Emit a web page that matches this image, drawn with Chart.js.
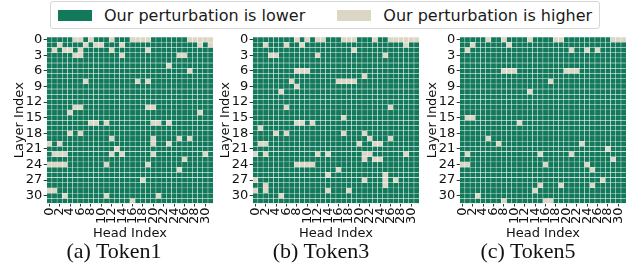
<!DOCTYPE html>
<html>
<head>
<meta charset="utf-8">
<script src="https://cdn.jsdelivr.net/npm/chart.js@4.4.0/dist/chart.umd.min.js"></script>
<style>
  html, body { margin: 0; padding: 0; background: #fff; }
  #wrap { position: relative; width: 629px; height: 271px; overflow: hidden; font-family: 'DejaVu Sans', sans-serif; }
  #wrap canvas { position: absolute; top: 30px; }
  .legend { position: absolute; top: 1px; left: 50px; height: 28px; box-sizing: border-box;
            border: 1px solid #d6d6d6; border-radius: 3px; display: flex; align-items: center;
            padding: 0 7px; font-size: 16px; color: #1a1a1a; white-space: nowrap; }
  .item { display: flex; align-items: center; }
  .item + .item { margin-left: 32px; }
  .sw { width: 34px; height: 11px; margin-right: 12px; }
  .cap { position: absolute; top: 238px; width: 200px; text-align: center;
         font-family: 'Liberation Serif', 'Times New Roman', serif; font-size: 22px; color: #111; }
</style>
</head>
<body>
<div id="wrap">
  <div class="legend">
    <div class="item"><div class="sw" id="sw-low"></div><span>Our perturbation is lower</span></div>
    <div class="item"><div class="sw" id="sw-high"></div><span>Our perturbation is higher</span></div>
  </div>
  <canvas id="c1" width="216" height="215" style="left:0px"></canvas>
  <canvas id="c2" width="216" height="215" style="left:205.8px"></canvas>
  <canvas id="c3" width="216" height="215" style="left:412.6px"></canvas>
  <div class="cap" style="left:14px">(a) Token1</div>
  <div class="cap" style="left:221px">(b) Token3</div>
  <div class="cap" style="left:428px">(c) Token5</div>
</div>
<script>
const GREEN = '#13795b';
const BEIGE = '#dcd6c5';

const heads = [0, 1, 2, 3, 4, 5, 6, 7, 8, 9, 10, 11, 12, 13, 14, 15,
               16, 17, 18, 19, 20, 21, 22, 23, 24, 25, 26, 27, 28, 29, 30, 31];
const layers = [0, 1, 2, 3, 4, 5, 6, 7, 8, 9, 10, 11, 12, 13, 14, 15,
                16, 17, 18, 19, 20, 21, 22, 23, 24, 25, 26, 27, 28, 29, 30, 31];
const layerTicks = [0, 3, 6, 9, 12, 15, 18, 21, 24, 27, 30];

// heads where our perturbation is higher, one list per layer
const token1Higher = [
  [5, 6, 8, 12, 16, 17, 18, 19, 27, 28, 29, 30, 31],
  [2, 7, 9, 10, 14, 29, 31],
  [1, 3, 4, 6, 12, 19],
  [5, 6, 14, 25, 26],
  [],
  [23],
  [27],
  [],
  [7, 17, 19],
  [], [], [], [],
  [5, 6, 19, 20],
  [4, 29],
  [],
  [8, 9, 11, 20, 21, 23],
  [],
  [4, 6],
  [12, 20, 25, 27],
  [0, 2, 20, 23],
  [13],
  [1, 2, 3, 12, 14, 20, 30],
  [26],
  [0, 1, 2, 3, 11, 19],
  [25],
  [],
  [18],
  [],
  [0, 1],
  [3, 11, 21],
  [16]
];

const token3Higher = [
  [8, 10, 12, 13, 17, 18, 19, 23, 26, 27, 28, 29, 30, 31],
  [2, 6, 9, 29],
  [19],
  [3, 4, 12, 25],
  [], [],
  [8, 9, 10],
  [21],
  [7, 16, 17, 18, 19],
  [8],
  [5],
  [], [],
  [6, 26],
  [],
  [17],
  [8, 9, 11],
  [1],
  [4, 6, 17, 21],
  [22, 26],
  [1, 2, 20, 23, 24],
  [],
  [0, 2, 12, 14, 21, 22, 29],
  [21, 23, 24],
  [8, 9, 10, 11],
  [16],
  [14, 25],
  [0, 21, 25, 27],
  [2, 25],
  [0, 2, 14, 18],
  [5],
  []
];

const token5Higher = [
  [5, 8, 13, 18, 19, 29, 30, 31],
  [2, 9],
  [1, 21, 24, 26],
  [], [], [],
  [8, 9, 10, 20, 21, 22],
  [],
  [17],
  [],
  [13],
  [], [], [], [],
  [1, 2],
  [11],
  [], [],
  [5],
  [7, 23],
  [28],
  [1, 15, 21],
  [29],
  [0, 1, 16, 24],
  [25],
  [],
  [27],
  [15, 19, 25],
  [14],
  [3],
  [8, 16, 17]
];

document.getElementById('sw-low').style.background = GREEN;
document.getElementById('sw-high').style.background = BEIGE;

Chart.defaults.font.family = "'DejaVu Sans', sans-serif";
Chart.defaults.color = '#111';

const makePanel = (id, higher) => {
  // one floating-bar dataset per layer, all overlaid in the same head slots
  const datasets = layers.map(layer => ({
    data: heads.map(() => [layer - 0.5, layer + 0.5]),
    backgroundColor: heads.map(h => (higher[layer].includes(h) ? BEIGE : GREEN)),
    borderColor: 'rgba(255,255,255,0.7)',
    borderWidth: 0.5,
    borderSkipped: false,
    grouped: false,
    categoryPercentage: 1,
    barPercentage: 1
  }));

  new Chart(document.getElementById(id), {
    type: 'bar',
    data: { labels: heads.map(String), datasets },
    options: {
      responsive: false,
      animation: false,
      devicePixelRatio: 1,
      layout: { padding: { top: 7, right: 2.8, left: 0, bottom: 0 } },
      plugins: { legend: { display: false }, tooltip: { enabled: false } },
      scales: {
        x: {
          type: 'category',
          offset: true,
          border: { display: false },
          grid: { display: true, drawOnChartArea: false, offset: false, tickLength: 3, tickColor: '#333' },
          ticks: { autoSkip: false, minRotation: 90, maxRotation: 90, padding: 1, font: { size: 13 } },
          afterBuildTicks: s => { s.ticks = s.ticks.filter(t => t.value % 2 === 0); },
          afterFit: s => { s.height = 41.5; s.paddingLeft = 0; s.paddingRight = 0; },
          title: { display: true, text: 'Head Index', padding: { top: 0, bottom: 3.5 }, font: { size: 13 } }
        },
        y: {
          type: 'linear',
          reverse: true,
          min: -0.5,
          max: 31.5,
          border: { display: false },
          grid: { display: true, drawOnChartArea: false, tickLength: 3, tickColor: '#333' },
          ticks: { autoSkip: false, padding: 1.5, font: { size: 13 } },
          afterBuildTicks: s => { s.ticks = layerTicks.map(v => ({ value: v })); },
          afterFit: s => { s.width = 46.7; s.paddingTop = 0; s.paddingBottom = 0; },
          title: { display: true, text: 'Layer Index', padding: { top: 12, bottom: 0 }, font: { size: 13 } }
        }
      }
    }
  });
};

makePanel('c1', token1Higher);
makePanel('c2', token3Higher);
makePanel('c3', token5Higher);
</script>
</body>
</html>
